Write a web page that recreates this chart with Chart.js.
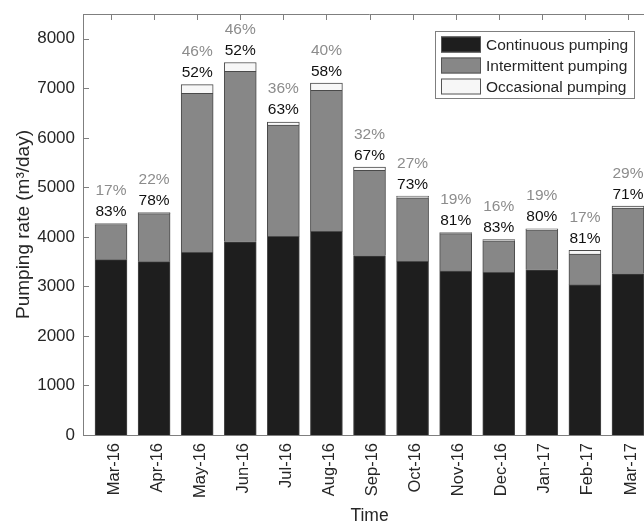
<!DOCTYPE html>
<html>
<head>
<meta charset="utf-8">
<script src="https://cdn.jsdelivr.net/npm/chart.js@4.4.1/dist/chart.umd.min.js"></script>
<style>
    html, body { margin: 0; padding: 0; background: #fff; overflow: hidden; }
    #wrap { width: 680px; height: 524px; position: relative; }
</style>
</head>
<body>
<div id="wrap"><canvas id="pumpChart"></canvas></div>
<script>
// --- Data ---
const months = ['Mar-16', 'Apr-16', 'May-16', 'Jun-16', 'Jul-16', 'Aug-16', 'Sep-16',
                'Oct-16', 'Nov-16', 'Dec-16', 'Jan-17', 'Feb-17', 'Mar-17'];
const continuous   = [3540, 3500, 3690, 3900, 4010, 4110, 3625, 3505, 3310, 3285, 3335, 3030, 3260];
const intermittent = [710, 970, 3210, 3440, 2245, 2850, 1720, 1285, 755, 635, 805, 625, 1320];
const occasional   = [20, 20, 175, 180, 65, 145, 65, 35, 20, 25, 25, 75, 40];
const contPct  = ['83%', '78%', '52%', '52%', '63%', '58%', '67%', '73%', '81%', '83%', '80%', '81%', '71%'];
const interPct = ['17%', '22%', '46%', '46%', '36%', '40%', '32%', '27%', '19%', '16%', '19%', '17%', '29%'];
const yTicks = [0, 1000, 2000, 3000, 4000, 5000, 6000, 7000, 8000];

const FONT = '"Liberation Sans", Arial, Helvetica, sans-serif';
const AXIS_COLOR = '#7f7f7f';
const TEXT_COLOR = '#262626';

const positions = months.map((m, i) => i + 1);
const toPoints = arr => arr.map((v, i) => ({ x: positions[i], y: v }));

// --- Plugins: percent labels, matlab-like box/ticks, legend ---
const percentLabels = {
    id: 'percentLabels',
    afterDatasetsDraw(chart) {
        const ctx = chart.ctx;
        const xs = chart.scales.x, ys = chart.scales.y;
        ctx.save();
        ctx.font = `15.5px ${FONT}`;
        ctx.textAlign = 'center';
        ctx.textBaseline = 'alphabetic';
        months.forEach((m, i) => {
            const total = continuous[i] + intermittent[i] + occasional[i];
            const px = xs.getPixelForValue(positions[i]);
            const top = ys.getPixelForValue(total);
            ctx.fillStyle = '#111';
            ctx.fillText(contPct[i], px, top - 7.5);
            ctx.fillStyle = '#8c8c8c';
            ctx.fillText(interPct[i], px, top - 28.5);
        });
        ctx.restore();
    }
};

const boxTicks = {
    id: 'boxTicks',
    afterDraw(chart) {
        const ctx = chart.ctx;
        const a = chart.chartArea;
        const xs = chart.scales.x, ys = chart.scales.y;
        ctx.save();
        ctx.strokeStyle = AXIS_COLOR;
        ctx.lineWidth = 1;
        ctx.beginPath();
        // top and right edges of the box
        ctx.moveTo(a.left, a.top + 0.5);
        ctx.lineTo(a.right, a.top + 0.5);
        ctx.moveTo(a.right - 0.5, a.top);
        ctx.lineTo(a.right - 0.5, a.bottom);
        // inward ticks on top axis
        positions.forEach(p => {
            const x = Math.round(xs.getPixelForValue(p)) + 0.5;
            ctx.moveTo(x, a.top);
            ctx.lineTo(x, a.top + 6);
        });
        // inward ticks on left axis
        yTicks.forEach(v => {
            const y = Math.round(ys.getPixelForValue(v)) + 0.5;
            ctx.moveTo(a.left, y);
            ctx.lineTo(a.left + 6, y);
        });
        ctx.stroke();
        ctx.restore();
    }
};

const boxLegend = {
    id: 'boxLegend',
    afterDraw(chart) {
        const ctx = chart.ctx;
        const a = chart.chartArea;
        const w = 200, h = 68;
        const left = a.right - 21 - w;
        const top = a.top + 17;
        ctx.save();
        ctx.fillStyle = '#fff';
        ctx.fillRect(left, top, w, h);
        ctx.strokeStyle = AXIS_COLOR;
        ctx.lineWidth = 1;
        ctx.strokeRect(left + 0.5, top + 0.5, w - 1, h - 1);
        ctx.font = `15.5px ${FONT}`;
        ctx.textBaseline = 'middle';
        ctx.textAlign = 'left';
        chart.data.datasets.forEach((ds, i) => {
            const cy = top + 13.5 + i * 21;
            ctx.fillStyle = ds.backgroundColor;
            ctx.fillRect(left + 6, cy - 8, 40, 16);
            ctx.strokeStyle = '#555';
            ctx.strokeRect(left + 6.5, cy - 7.5, 39, 15);
            ctx.fillStyle = TEXT_COLOR;
            ctx.fillText(ds.label, left + 51, cy + 1);
        });
        ctx.restore();
    }
};

// --- Chart ---
function renderPumpChart() {
    const ctx = document.getElementById('pumpChart').getContext('2d');
    const common = { borderColor: '#4a4a4a', borderWidth: 1, barThickness: 32 };

    new Chart(ctx, {
        type: 'bar',
        data: {
            datasets: [
                { label: 'Continuous pumping', data: toPoints(continuous), backgroundColor: '#1e1e1e', ...common },
                { label: 'Intermittent pumping', data: toPoints(intermittent), backgroundColor: '#878787', ...common },
                { label: 'Occasional pumping', data: toPoints(occasional), backgroundColor: '#f7f7f7', ...common }
            ]
        },
        options: {
            responsive: true,
            maintainAspectRatio: false,
            animation: false,
            layout: { padding: { top: 14, right: 24, left: 0, bottom: 0 } },
            plugins: {
                legend: { display: false },
                tooltip: { enabled: false }
            },
            scales: {
                x: {
                    type: 'linear',
                    stacked: true,
                    offset: false,
                    min: 0.35,
                    max: 13.65,
                    grid: { display: false, offset: false },
                    border: { display: true, color: AXIS_COLOR, width: 1 },
                    afterBuildTicks: scale => { scale.ticks = positions.map(v => ({ value: v })); },
                    afterFit: scale => { scale.height = 89; },
                    ticks: {
                        autoSkip: false,
                        minRotation: 90,
                        maxRotation: 90,
                        padding: 0,
                        labelOffset: 3,
                        color: TEXT_COLOR,
                        font: { family: FONT, size: 16.5 },
                        callback: v => months[v - 1]
                    },
                    title: {
                        display: true,
                        text: 'Time',
                        color: TEXT_COLOR,
                        font: { family: FONT, size: 17.5 },
                        padding: { top: 0, bottom: -3 }
                    }
                },
                y: {
                    stacked: true,
                    min: 0,
                    max: 8500,
                    grid: { display: false },
                    border: { display: true, color: AXIS_COLOR, width: 1 },
                    afterBuildTicks: scale => { scale.ticks = yTicks.map(v => ({ value: v })); },
                    afterFit: scale => { scale.width = 83; },
                    ticks: {
                        padding: 0,
                        color: TEXT_COLOR,
                        font: { family: FONT, size: 17 },
                        callback: v => String(v)
                    },
                    title: {
                        display: true,
                        text: 'Pumping rate (m³/day)',
                        color: TEXT_COLOR,
                        font: { family: FONT, size: 19 },
                        padding: { top: 12, bottom: 0 }
                    }
                }
            }
        },
        plugins: [percentLabels, boxTicks, boxLegend]
    });
}

window.addEventListener('DOMContentLoaded', renderPumpChart);
</script>
</body>
</html>
